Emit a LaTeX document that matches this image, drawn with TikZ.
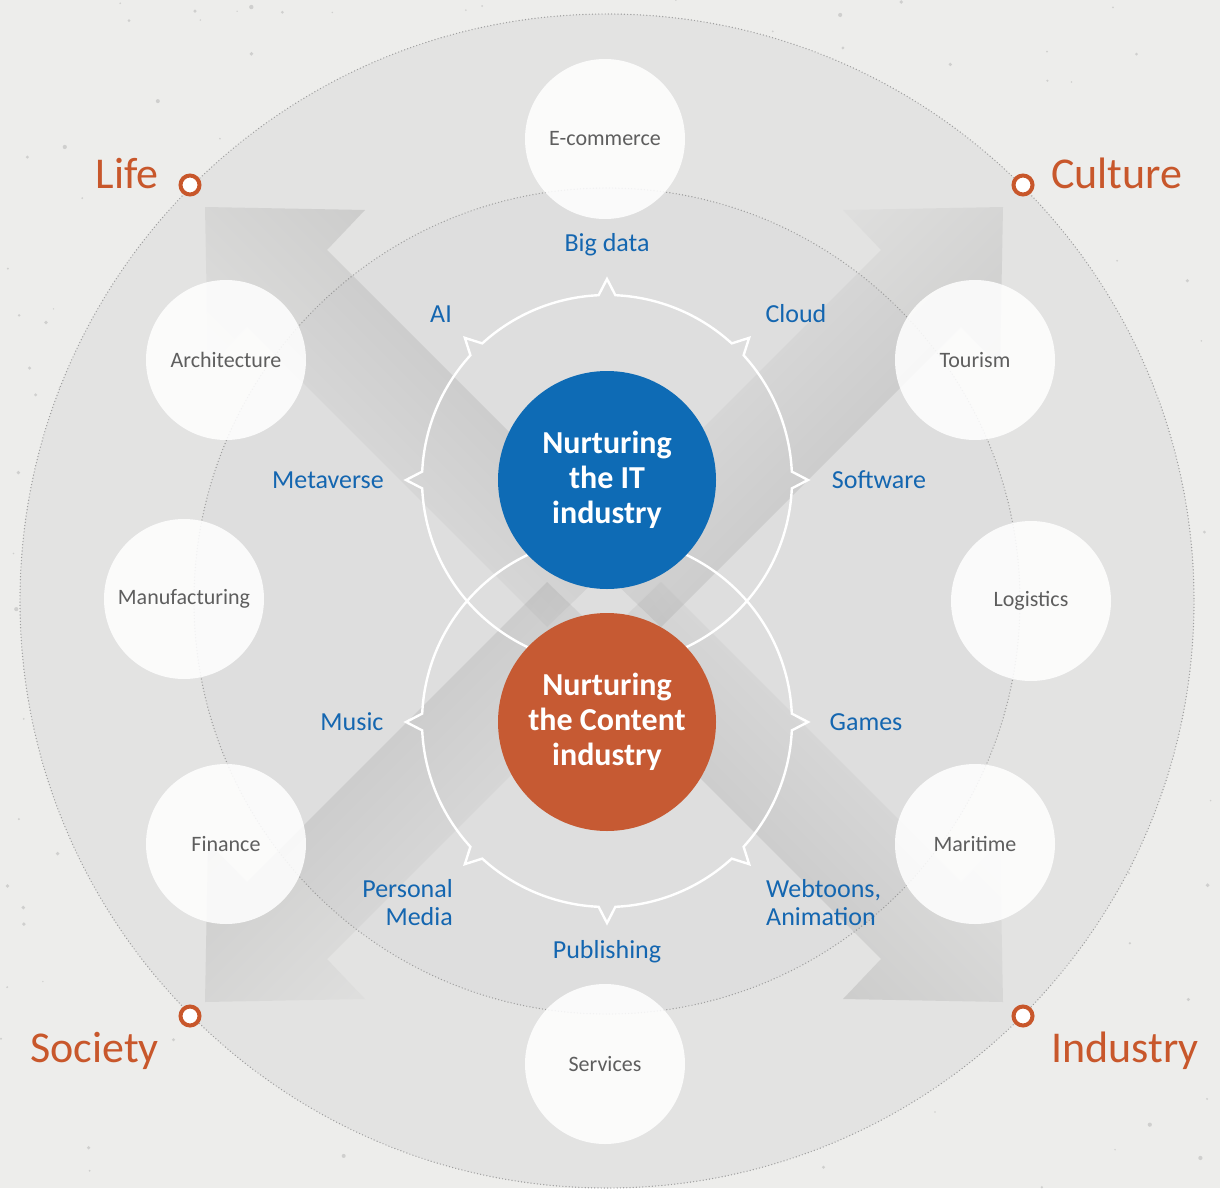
\documentclass[tikz,border=0pt]{standalone}
\usepackage{fontspec}
\setmainfont{Carlito}
\definecolor{bgc}{HTML}{EDEDEB}
\definecolor{outerc}{HTML}{E3E3E2}
\definecolor{innerc}{HTML}{DCDCDC}
\definecolor{itblue}{HTML}{0E6BB5}
\definecolor{corange}{HTML}{C65A33}
\definecolor{lblue}{HTML}{1466B0}
\definecolor{lorange}{HTML}{C8572B}
\definecolor{lgray}{HTML}{5E5E5E}
\tikzset{
  dotborder/.style={draw=black!38, line width=1.4pt, line cap=round, dash pattern=on 0pt off 3.2pt},
  ring/.style={draw=white, line width=2.4pt, line join=miter},
  bubble/.style={circle, fill=white, fill opacity=0.86, text opacity=1, minimum size=160pt, inner sep=0pt, text=lgray, font=\fontsize{22}{24}\selectfont},
  core/.style={circle, minimum size=218pt, inner sep=0pt, text=white, align=center, font=\bfseries\fontsize{32}{35}\selectfont},
  tech/.style={text=lblue, inner sep=0pt, font=\fontsize{26}{28}\selectfont},
  domainlbl/.style={text=lorange, inner sep=0pt, font=\fontsize{44}{48}\selectfont},
  marker/.style={circle, draw=lorange, line width=4pt, fill=white, minimum size=19pt, inner sep=0pt},
  bigarrow/.style={left color=black!90, middle color=black!30, right color=white, fill opacity=0.15}
}
\begin{document}
\begin{tikzpicture}[x=1pt,y=-1pt]
\useasboundingbox (0,0) rectangle (1220,1188);
\fill[bgc] (0,0) rectangle (1220,1188);
% speckles
\pgfmathsetseed{11}
\foreach \i in {1,...,260}{
  \pgfmathsetmacro\px{rnd*1220}
  \pgfmathsetmacro\py{rnd*1188}
  \pgfmathsetmacro\pr{0.7+rnd*1.5}
  \fill[black!45, fill opacity=0.3] (\px,\py) circle[radius=\pr];
}
% outer and inner discs
\fill[outerc] (607,601) circle[radius=587];
\draw[dotborder] (607,601) circle[radius=587];
\fill[innerc, fill opacity=0.6] (607,601) circle[radius=413];
\draw[dotborder] (607,601) circle[radius=413];
% big arrows (life, culture, society, industry)
\shade[bigarrow, shading angle=-45] (205,207) -- (365,210) -- (327,250) -- (627,550) -- (547,627) -- (247,327) -- (208,367) -- cycle;
\shade[bigarrow, shading angle=-135] (1003,207) -- (843,210) -- (881,250) -- (581,550) -- (661,627) -- (961,327) -- (1000,367) -- cycle;
\shade[bigarrow, shading angle=45] (205,1002) -- (365,999) -- (327,959) -- (627,659) -- (547,582) -- (247,882) -- (208,842) -- cycle;
\shade[bigarrow, shading angle=135] (1003,1002) -- (843,999) -- (881,959) -- (581,659) -- (661,582) -- (961,882) -- (1000,842) -- cycle;
% notched rings
\draw[ring, shift={(607,480)}] (2.6:185pt)
  arc[start angle=2.6, end angle=42.4, radius=185pt] -- (45:201pt) -- (47.6:185pt)
  arc[start angle=47.6, end angle=87.4, radius=185pt] -- (90:201pt) -- (92.6:185pt)
  arc[start angle=92.6, end angle=132.4, radius=185pt] -- (135:201pt) -- (137.6:185pt)
  arc[start angle=137.6, end angle=177.4, radius=185pt] -- (180:201pt) -- (182.6:185pt)
  arc[start angle=182.6, end angle=357.4, radius=185pt] -- (0:201pt) -- cycle;
\draw[ring, shift={(607,722)}] (2.6:185pt)
  arc[start angle=2.6, end angle=177.4, radius=185pt] -- (180:201pt) -- (182.6:185pt)
  arc[start angle=182.6, end angle=222.4, radius=185pt] -- (225:201pt) -- (227.6:185pt)
  arc[start angle=227.6, end angle=267.4, radius=185pt] -- (270:201pt) -- (272.6:185pt)
  arc[start angle=272.6, end angle=312.4, radius=185pt] -- (315:201pt) -- (317.6:185pt)
  arc[start angle=317.6, end angle=357.4, radius=185pt] -- (0:201pt) -- cycle;
% core circles
\node[core, fill=itblue] (it) at (607,480) {Nurturing\\the IT\\industry};
\node[core, fill=corange] (content) at (607,722) {Nurturing\\the Content\\industry};
% bubbles
\node[bubble] (ecom) at (605,139) {E-commerce};
\node[bubble] (arch) at (226,360) {Architecture};
\node[bubble] (manu) at (184,599) {Manufacturing};
\node[bubble] (fin) at (226,844) {Finance};
\node[bubble] (serv) at (605,1064) {Services};
\node[bubble] (mari) at (975,844) {Maritime};
\node[bubble] (logi) at (1031,601) {Logistics};
\node[bubble] (tour) at (975,360) {Tourism};
% technology labels
\node[tech] (bigdata) at (607,245) {Big data};
\node[tech] (ai) at (441,314) {AI};
\node[tech] (cloud) at (796,314) {Cloud};
\node[tech] (meta) at (328,480) {Metaverse};
\node[tech] (soft) at (879,480) {Software};
\node[tech] (music) at (352,722) {Music};
\node[tech] (games) at (866,722) {Games};
\node[tech, align=right, anchor=east] (pmedia) at (453,903) {Personal\\Media};
\node[tech, align=left, anchor=west] (webt) at (766,903) {Webtoons,\\Animation};
\node[tech] (publ) at (607,952) {Publishing};
% domain markers and labels
\node[marker] (mlife) at (190,185) {};
\node[marker] (mcult) at (1023,185) {};
\node[marker] (msoc) at (190,1016) {};
\node[marker] (mind) at (1023,1016) {};
\node[domainlbl, anchor=base east] (life) at (159,188) {Life};
\node[domainlbl, anchor=base west] (culture) at (1051,188) {Culture};
\node[domainlbl, anchor=base east] (society) at (159,1062) {Society};
\node[domainlbl, anchor=base west] (industry) at (1051,1062) {Industry};
\end{tikzpicture}
\end{document}
